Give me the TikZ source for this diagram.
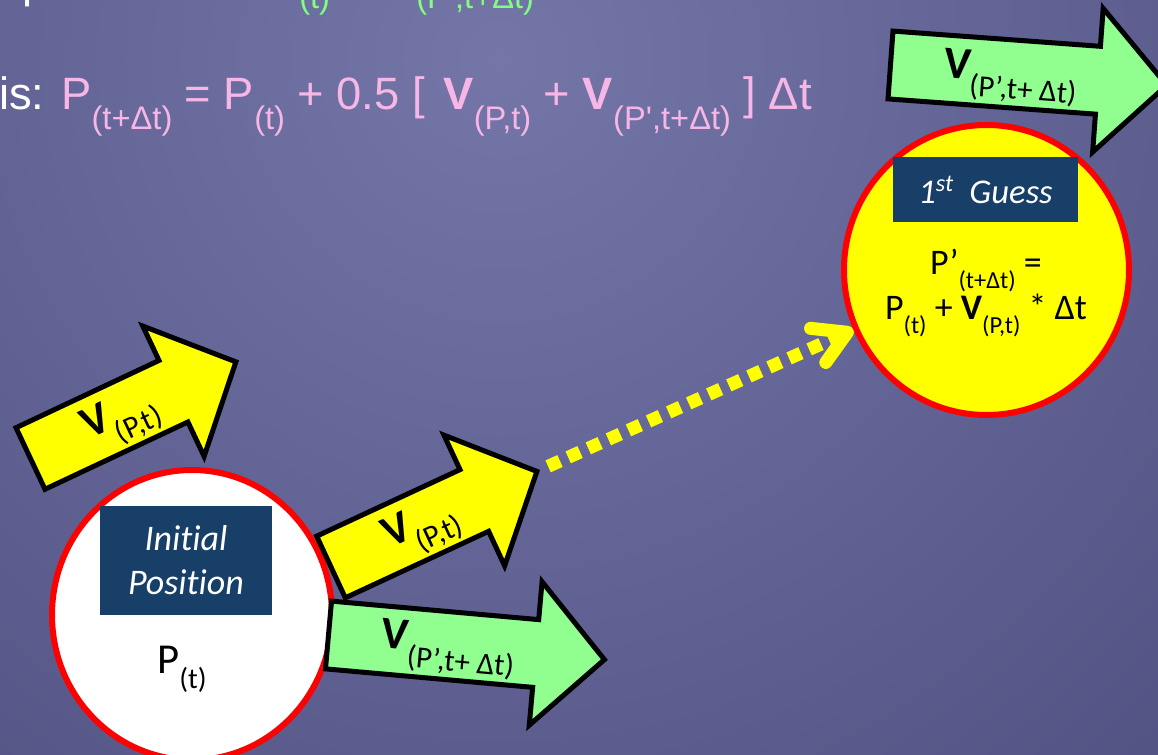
\documentclass[tikz,border=0pt]{standalone}
\usepackage{fontspec}
\setmainfont{Carlito}[Ligatures=CommonOff]
\newfontfamily\arialfont{Liberation Sans}
\usepackage{graphicx}
\usetikzlibrary{arrows.meta,shapes.geometric}

\definecolor{bginner}{RGB}{116,118,168}
\definecolor{bgouter}{RGB}{46,46,92}
\definecolor{boxblue}{RGB}{23,63,103}
\definecolor{vyellow}{RGB}{255,255,0}
\definecolor{vgreen}{RGB}{144,255,144}
\definecolor{eqpink}{RGB}{246,182,230}
\definecolor{eqgreen}{RGB}{128,255,128}

% lowered subscripts (circle text / rule text)
\newcommand{\lo}[1]{\raisebox{-.37em}{\scalebox{.68}{#1}}}
\newcommand{\plo}[1]{\raisebox{-.42em}{\scalebox{.72}{#1}}}

% block arrow: fill, name, tail, angle, length, label
\newcommand{\blockarrow}[6]{%
  \begin{scope}[shift={#3}, rotate=#4]
    \draw[arrowbody, fill=#1] (0,-34) -- ({#5-72},-34) -- ({#5-72},-72) -- ({#5-3},0)
      -- ({#5-72},72) -- ({#5-72},34) -- (0,34) -- cycle;
    \coordinate (#2-tip) at (#5,0);
    \node[vlabel, rotate=#4] (#2) at ({0.43*#5},4) {#6};
  \end{scope}}

\begin{document}
\begin{tikzpicture}[
    x=0.75pt, y=-0.75pt,
    arrowbody/.style={draw=black, line width=3.75pt, line join=miter},
    vlabel/.style={inner sep=0pt, font=\fontsize{34}{40}\selectfont},
    startring/.style={ellipse, draw=red, line width=4.5pt, fill=white, inner sep=0pt, minimum width=210pt, minimum height=217.5pt},
    guessring/.style={ellipse, draw=red, line width=4.5pt, fill=vyellow, inner sep=0pt, minimum width=213.75pt, minimum height=217.5pt},
    titlebox/.style={fill=boxblue, text=white, align=center, inner sep=0pt, font=\itshape\fontsize{27}{33}\selectfont},
    circtext/.style={anchor=base, inner sep=0pt, font=\fontsize{27}{32}\selectfont},
    eqline/.style={anchor=base west, inner sep=0pt, text=eqpink, font=\arialfont\fontsize{34}{40}\selectfont},
    dotarrow/.style={draw=vyellow, line width=9.75pt, dash pattern=on 9.75pt off 6.75pt, shorten <=7pt, -{Straight Barb[length=24pt, width=28pt, round]}}
]
\useasboundingbox (0,0) rectangle (1158,755);
\clip (0,0) rectangle (1158,755);
\shade[inner color=bginner, outer color=bgouter] (500,60) circle (2000);

% rule text (top line cut by the frame)
\node[eqline, text=white] (cutp) at (22,-2) {p};
\node[eqline, text=eqgreen] (cutsubone) at (299,9) {\scalebox{.72}{(t)}};
\node[eqline, text=eqgreen] (cutsubtwo) at (416,9) {\scalebox{.72}{(P',t+Δt)}};
\node[eqline] (rule) at (-1,110) {\textcolor{white}{is:} P\plo{(t+Δt)} = P\plo{(t)} + 0.5 [\hspace{14pt}\textbf{V}\plo{(P,t)} + \textbf{V}\plo{(P',t+Δt)} ] Δt};

% initial position
\node[startring] (start) at (192,615) {};
\node[titlebox, minimum width=129pt, minimum height=81.75pt] (starttitle) at (186,560.5) {Initial\\Position};
\node[circtext, font=\fontsize{32}{36}\selectfont] (startpos) at (182,673) {P\lo{(t)}};

% velocity arrows
\blockarrow{vyellow}{yone}{(30.5,458.5)}{25.2}{230}{\textbf{V}\lo{(P,t)}}
\blockarrow{vyellow}{ytwo}{(331,567)}{24.9}{230}{\textbf{V}\lo{(P,t)}}
\blockarrow{vgreen}{gone}{(328.5,635)}{-5.1}{280}{\textbf{V}\lo{(P’,t+ Δt)}}
\blockarrow{vgreen}{gtwo}{(890.5,65)}{-4.2}{280}{\textbf{V}\lo{(P’,t+ Δt)}}

% first guess
\node[guessring] (guess) at (986.5,270) {};
\node[titlebox, minimum width=138.75pt, minimum height=48.75pt, font=\itshape\fontsize{26}{30}\selectfont] (guesstitle) at (985.5,189.5) {1\textsuperscript{st}\ \ Guess};
\node[circtext] (guessone) at (986,275) {P’\lo{(t+Δt)} =};
\node[circtext] (guesstwo) at (986,320) {P\lo{(t)} + \textbf{V}\lo{(P,t)} * Δt};

\draw[dotarrow] (ytwo-tip) -- (guess);
\end{tikzpicture}
\end{document}
